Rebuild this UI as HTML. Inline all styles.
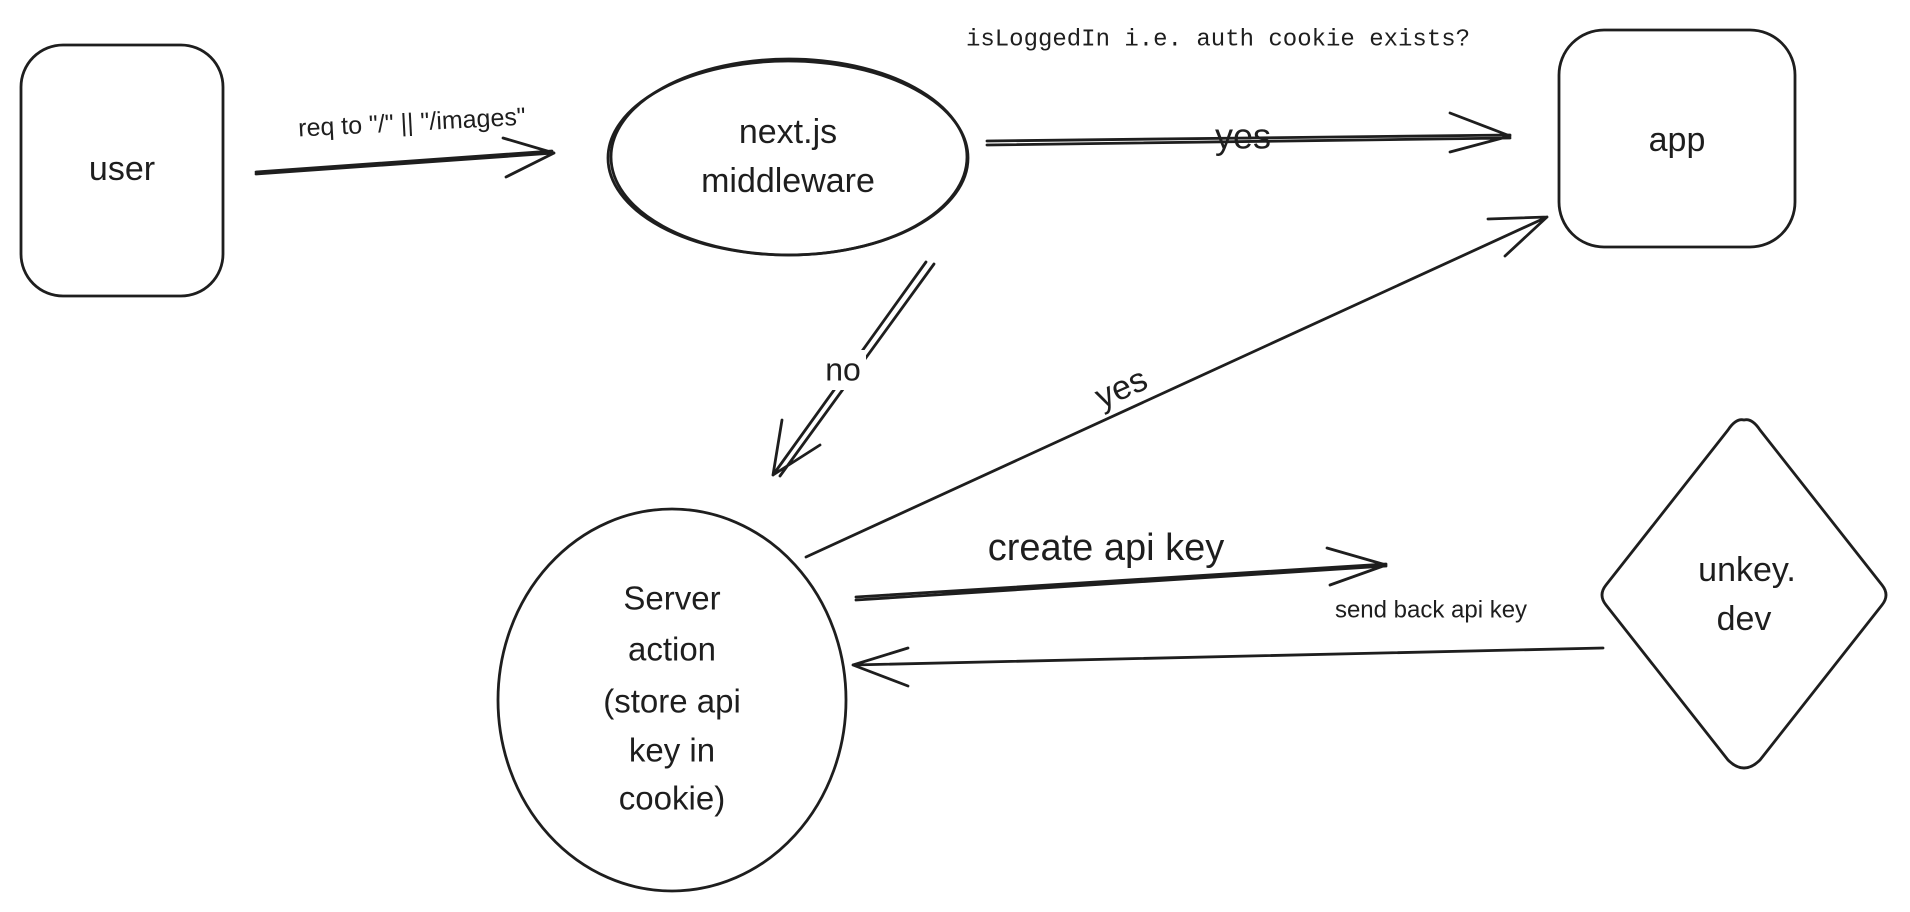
<!DOCTYPE html>
<html><head><meta charset="utf-8"><style>
html,body{margin:0;padding:0;background:#fff;}
svg{display:block}
text{font-family:"Liberation Sans",sans-serif;fill:#1e1e1e;text-anchor:middle;dominant-baseline:middle}
.s{fill:none;stroke:#1e1e1e;stroke-width:2.8;stroke-linecap:round;stroke-linejoin:round}
</style></head><body>
<svg width="1910" height="912" viewBox="0 0 1910 912">
<!-- user -->
<rect class="s" x="21" y="45" width="202" height="251" rx="42"/>
<text x="122" y="171" font-size="34">user</text>
<!-- arrow user -> middleware -->
<path class="s" d="M256 174 L554 153 M256 172 L552 151 M554 153 L503 138 M554 153 L506 177"/>
<text x="412" y="124" font-size="25" transform="rotate(-3 412 124)">req to "/" || "/images"</text>
<!-- middleware -->
<ellipse class="s" cx="788" cy="158" rx="180" ry="97"/>
<ellipse class="s" cx="789" cy="157" rx="178" ry="98" stroke-width="1.5"/>
<text x="788" y="134" font-size="34">next.js</text>
<text x="788" y="183" font-size="34">middleware</text>
<!-- isLoggedIn -->
<text x="1218" y="39" font-size="24" style="font-family:'Liberation Mono',monospace">isLoggedIn i.e. auth cookie exists?</text>
<!-- yes arrow -> app -->
<path class="s" d="M987 141 L1510 135 M987 145 L1510 138 M1510 136 L1450 113 M1510 136 L1450 152" stroke-width="2"/>
<text x="1243" y="139" font-size="36">yes</text>
<!-- app -->
<rect class="s" x="1559" y="30" width="236" height="217" rx="45"/>
<text x="1677" y="142" font-size="34">app</text>
<!-- no arrow -->
<path class="s" d="M926 262 L773 475 M934 264 L780 476 M773 475 L782 420 M773 475 L820 445" stroke-width="2"/>
<rect x="820" y="350" width="46" height="40" fill="#fff"/>
<text x="843" y="372" font-size="32">no</text>
<!-- yes arrow circle -> app -->
<path class="s" d="M806 557 L1547 217 M1547 217 L1488 219 M1547 217 L1505 256" stroke-width="2"/>
<text x="1122" y="390" font-size="34" transform="rotate(-24 1122 390)">yes</text>
<!-- Server action circle -->
<ellipse class="s" cx="672" cy="700" rx="174" ry="191"/>
<text x="672" y="601" font-size="33">Server</text>
<text x="672" y="652" font-size="33">action</text>
<text x="672" y="704" font-size="33">(store api</text>
<text x="672" y="753" font-size="33">key in</text>
<text x="672" y="801" font-size="33">cookie)</text>
<!-- create api key -->
<path class="s" d="M856 597 L1386 564 M856 600 L1386 566 M1386 565 L1327 548 M1386 565 L1330 585" stroke-width="2"/>
<text x="1106" y="550" font-size="38">create api key</text>
<!-- send back -->
<path class="s" d="M1603 648 L853 665 M853 665 L908 648 M853 665 L908 686" stroke-width="2.5"/>
<text x="1431" y="611" font-size="24">send back api key</text>
<!-- unkey diamond -->
<path class="s" d="M1744 420 Q1752 418 1760 430 L1882 585 Q1890 595 1882 605 L1760 760 Q1744 776 1728 760 L1606 605 Q1598 595 1606 585 L1728 430 Q1736 418 1744 420 Z"/>
<text x="1747" y="572" font-size="34">unkey.</text>
<text x="1744" y="621" font-size="34">dev</text>
</svg>
</body></html>
